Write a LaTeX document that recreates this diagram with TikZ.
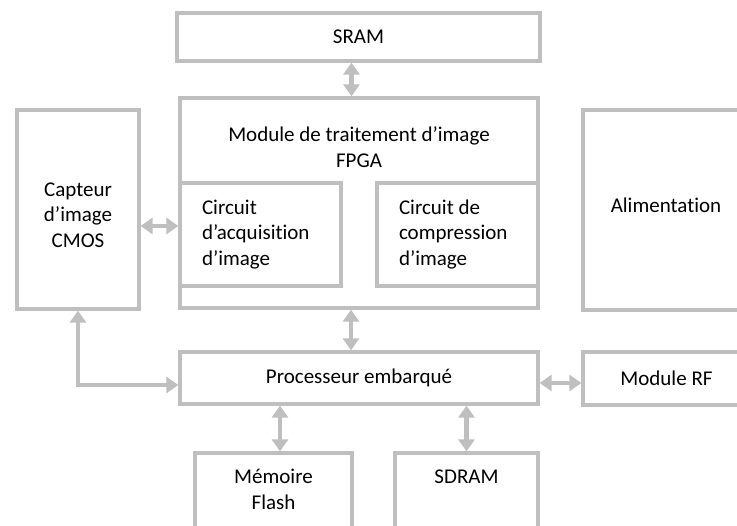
\documentclass[tikz,border=0pt]{standalone}
\usepackage{fontspec}
\setmainfont{Carlito}[Ligatures=NoCommon]
\usetikzlibrary{arrows.meta,positioning}
\definecolor{boxgray}{RGB}{191,191,191}
\begin{document}
\begin{tikzpicture}[x=1pt,y=-1pt,font=\fontsize{21}{25.5}\selectfont,
  box/.style={draw=boxgray,line width=3.3pt,inner sep=0pt,align=center},
  txt/.style={inner sep=0pt,align=center},
  twoway/.style={draw=boxgray,line width=4.5pt,{Triangle[width=16pt,length=12pt]}-{Triangle[width=16pt,length=12pt]}}]
\useasboundingbox (0,0) rectangle (737,526);
\clip (0,0) rectangle (737,526);

\node[box,minimum width=363pt,minimum height=48pt] (sram) at (358.5,37) {SRAM};

\node[box,minimum width=358pt,minimum height=210pt] (fpga) at (359,203) {};
\node[txt] (fpgatitle) at (359,147) {Module de traitement d’image\\FPGA};
\node[box,minimum width=161pt,minimum height=103pt,text width=117pt,inner xsep=22pt,align=flush left] (acq) at (260.5,234.5) {Circuit\\d’acquisition\\d’image};
\node[box,minimum width=161pt,minimum height=103pt,text width=117pt,inner xsep=22pt,align=flush left] (comp) at (457.5,234.5) {Circuit de\\compression\\d’image};

\node[box,minimum width=122pt,minimum height=199pt] (capteur) at (78,209.5) {};
\node[txt] (capteurtxt) at (78,215) {Capteur\\d’image\\CMOS};
\node[box,minimum width=167pt,minimum height=200pt] (alim) at (666.5,210) {};
\node[txt] (alimtxt) at (666,205) {Alimentation};

\node[box,minimum width=358pt,minimum height=52pt] (proc) at (359,378) {Processeur embarqué};
\node[box,minimum width=167pt,minimum height=53pt] (rf) at (666.5,378.5) {Module RF};

\node[box,minimum width=157pt,minimum height=87pt] (flash) at (273.5,496.5) {};
\node[txt] (flashtxt) at ([yshift=-38pt]flash.north) {Mémoire\\Flash};
\node[box,minimum width=143pt,minimum height=87pt] (sdram) at (466.5,496.5) {};
\node[txt] (sdramtxt) at ([yshift=-25pt]sdram.north) {SDRAM};

\draw[twoway] ([xshift=-7pt]sram.south) -- ([xshift=-7pt]sram.south |- fpga.north);
\draw[twoway] ([yshift=-16.5pt]capteur.east) -- ([yshift=-16.5pt]capteur.east -| acq.west);
\draw[twoway] ([xshift=-8pt]fpga.south) -- ([xshift=-8pt]fpga.south |- proc.north);
\draw[twoway] (capteur.south) |- ([yshift=-7pt]proc.west);
\draw[twoway] ([yshift=-5pt]proc.east) -- ([yshift=-5pt]proc.east -| rf.west);
\draw[twoway] ([xshift=6.5pt]flash.north) -- ([xshift=6.5pt]flash.north |- proc.south);
\draw[twoway] (sdram.north) -- (sdram.north |- proc.south);

\end{tikzpicture}
\end{document}
